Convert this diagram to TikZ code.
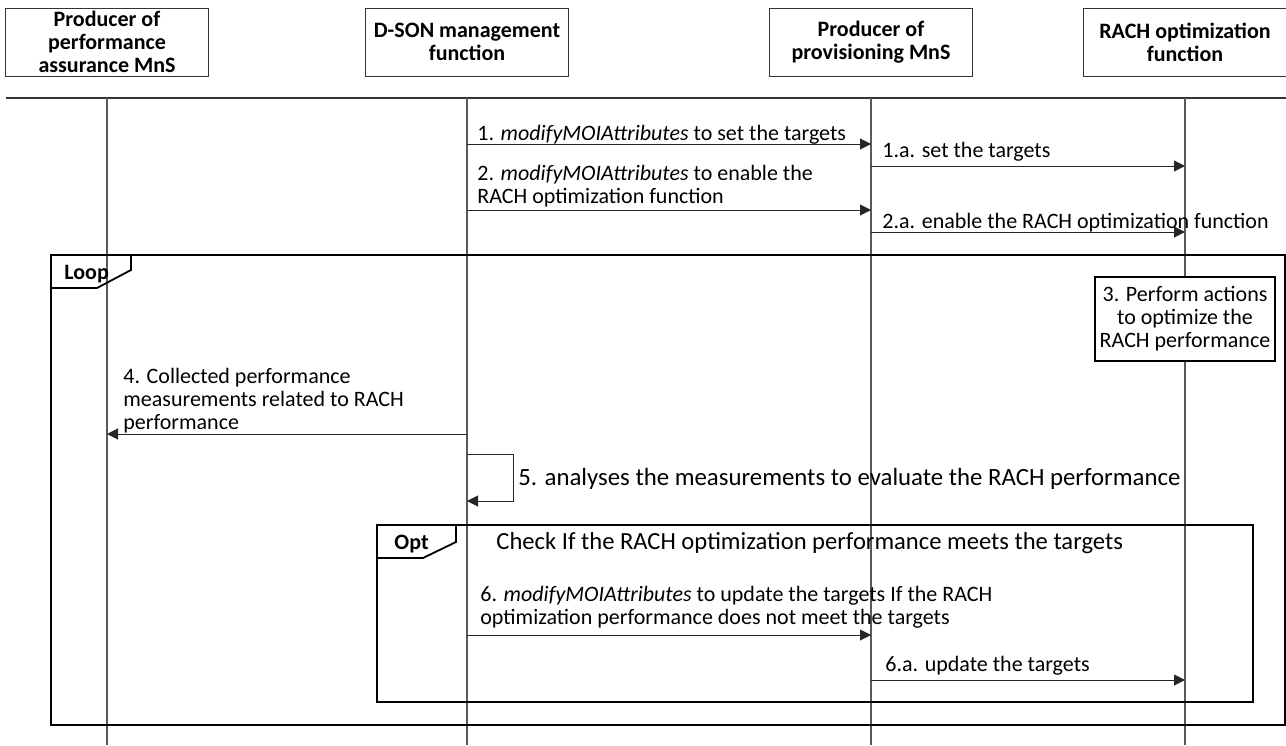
\documentclass[tikz,border=0pt]{standalone}
\usepackage{fontspec}
\setmainfont{Carlito}
\usetikzlibrary{arrows.meta}

\begin{document}
\begin{tikzpicture}[x=0.5pt,y=-0.5pt,
    every node/.style={font=\fontsize{11}{11.5}\selectfont},
    head/.style={draw=black!80,line width=0.5pt,minimum width=101.5pt,minimum height=34pt,
      align=center,inner sep=0pt,font=\fontsize{11}{11.5}\selectfont\bfseries},
    life/.style={draw=black!65,line width=1pt},
    msg/.style={draw=black!85,line width=0.5pt,-{Triangle[length=5.5pt,width=5.5pt]}},
    lbl/.style={anchor=base west,inner sep=0pt,align=left},
    frame/.style={draw=black,line width=0.9pt},
    tag/.style={anchor=base west,inner sep=0pt,font=\fontsize{11}{11.5}\selectfont\bfseries}]
      \useasboundingbox (0,0) rectangle (1286,745);
      \node[head] (pa) at (107,42) {Producer of\\performance\\assurance MnS};
      \node[head] (dson) at (467,42) {D-SON management\\function};
      \node[head] (prov) at (871,42) {Producer of\\provisioning MnS};
      \node[head] (rach) at (1185,42) {RACH optimization\\function};
      \coordinate (top) at (6,98);
      \coordinate (bot) at (1286,745);
      \draw[black!80,line width=0.6pt] (top) -- (top -| bot);
      \foreach \n in {pa,dson,prov,rach}
        \draw[life] (\n |- top) -- (\n |- bot);
      \foreach \n/\y in {y1/144,y1a/166,y2/210,y2a/232,y4/434,y5/454,y5b/501,y6/635,y6a/680}
        \coordinate (\n) at (0,\y);
      \draw[msg] (dson |- y1) -- (prov |- y1);
      \node[lbl] (l1) at (477,140) {1. \textit{modifyMOIAttributes} to set the targets};
      \draw[msg] (prov |- y1a) -- (rach |- y1a);
      \node[lbl] (l1a) at (882,157) {1.a. set the targets};
      \draw[msg] (dson |- y2) -- (prov |- y2);
      \node[lbl] (l2) at (477,203) {2. \textit{modifyMOIAttributes} to enable the\\RACH optimization function};
      \draw[msg] (prov |- y2a) -- (rach |- y2a);
      \node[lbl] (l2a) at (882,228) {2.a. enable the RACH optimization function};
      \draw[frame] (51,255) rectangle (1285,725);
      \draw[frame] (51,288) -- (97,288) -- (131,270) -- (131,255);
      \node[tag] (loop) at (64,279) {Loop};
      \node[draw=black,line width=0.6pt,fill=white,minimum width=90pt,minimum height=42pt,
        align=center,inner sep=0pt] (act) at (rach |- 0,319) {3. Perform actions\\to optimize the\\RACH performance};
      \draw[msg] (dson |- y4) -- (pa |- y4);
      \node[lbl] (l4) at (123,429) {4. Collected performance\\measurements related to RACH\\performance};
      \draw[msg] (dson |- y5) -- ++(46,0) |- (dson |- y5b);
      \node[lbl,font=\fontsize{12.4}{14}\selectfont] (l5) at (518,485) {5. analyses the measurements to evaluate the RACH performance};
      \draw[frame] (377,525) rectangle (1253,702);
      \draw[frame] (377,558) -- (423,558) -- (456,542) -- (456,525);
      \node[tag] (opt) at (394,549) {Opt};
      \node[lbl,font=\fontsize{12.3}{14}\selectfont] (chk) at (496,549) {Check If the RACH optimization performance meets the targets};
      \draw[msg] (dson |- y6) -- (prov |- y6);
      \node[lbl] (l6) at (480,624) {6. \textit{modifyMOIAttributes} to update the targets If the RACH\\optimization performance does not meet the targets};
      \draw[msg] (prov |- y6a) -- (rach |- y6a);
      \node[lbl] (l6a) at (885,671) {6.a. update the targets};
\end{tikzpicture}
\end{document}
